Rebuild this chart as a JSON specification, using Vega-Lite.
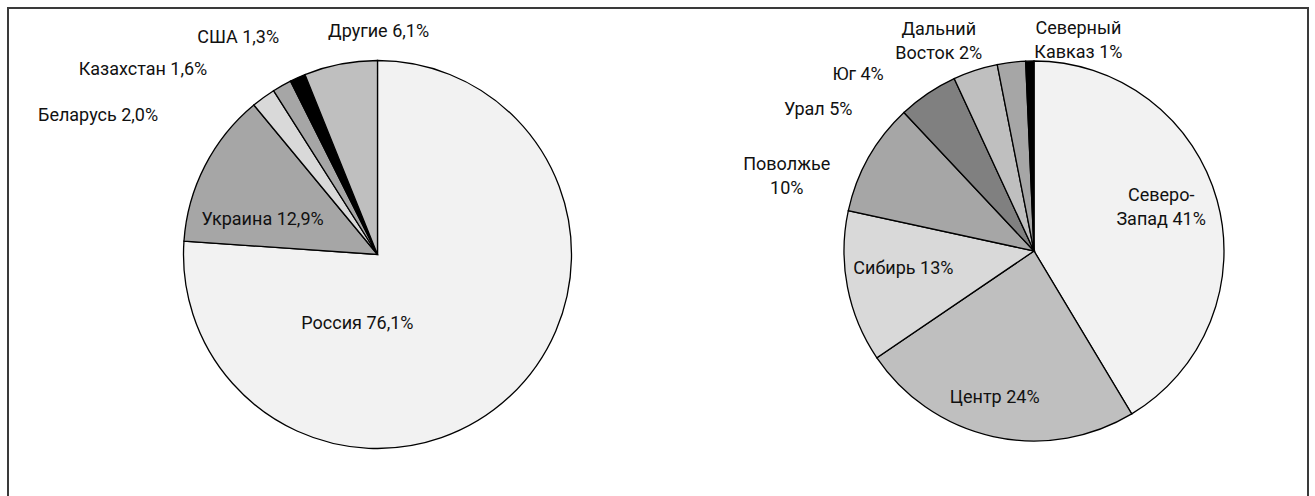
{
  "$schema": "https://vega.github.io/schema/vega-lite/v6.json",
  "width": 1300,
  "height": 500,
  "autosize": {"type": "none"},
  "padding": {"left": 8, "top": 8, "right": 7, "bottom": 0},
  "background": "white",
  "config": {
    "view": {"stroke": "#3a3a3a", "strokeWidth": 2},
    "text": {"font": "Roboto", "fontSize": 18, "color": "#111111", "baseline": "middle", "align": "center", "lineBreak": "\n", "lineHeight": 24}
  },
  "data": {
    "values": [
      {"chart": "A", "idx": 1, "name": "Россия", "value": 76.1, "label": "Россия 76,1%"},
      {"chart": "A", "idx": 2, "name": "Украина", "value": 12.9, "label": "Украина 12,9%"},
      {"chart": "A", "idx": 3, "name": "Беларусь", "value": 2.0, "label": "Беларусь 2,0%"},
      {"chart": "A", "idx": 4, "name": "Казахстан", "value": 1.6, "label": "Казахстан 1,6%"},
      {"chart": "A", "idx": 5, "name": "США", "value": 1.3, "label": "США 1,3%"},
      {"chart": "A", "idx": 6, "name": "Другие", "value": 6.1, "label": "Другие 6,1%"},
      {"chart": "B", "idx": 1, "name": "Северо-Запад", "value": 41.4, "label": "Северо-\nЗапад 41%"},
      {"chart": "B", "idx": 2, "name": "Центр", "value": 24.1, "label": "Центр 24%"},
      {"chart": "B", "idx": 3, "name": "Сибирь", "value": 12.9, "label": "Сибирь 13%"},
      {"chart": "B", "idx": 4, "name": "Поволжье", "value": 9.6, "label": "Поволжье\n10%"},
      {"chart": "B", "idx": 5, "name": "Урал", "value": 5.1, "label": "Урал 5%"},
      {"chart": "B", "idx": 6, "name": "Юг", "value": 3.8, "label": "Юг 4%"},
      {"chart": "B", "idx": 7, "name": "Дальний Восток", "value": 2.4, "label": "Дальний\nВосток 2%"},
      {"chart": "B", "idx": 8, "name": "Северный Кавказ", "value": 0.7, "label": "Северный\nКавказ 1%"}
    ]
  },
  "encoding": {
    "x": {"field": "chart", "type": "nominal", "scale": {"type": "point", "domain": ["A", "B"], "range": [369.5, 1026], "padding": 0}, "axis": null},
    "y": {"field": "chart", "type": "nominal", "scale": {"type": "point", "domain": ["A", "B"], "range": [246.5, 243], "padding": 0}, "axis": null},
    "theta": {"field": "value", "type": "quantitative", "stack": true, "scale": {"domain": [0, 100]}},
    "order": {"field": "idx", "type": "quantitative"}
  },
  "layer": [
    {
      "transform": [{"filter": "datum.chart === 'A'"}],
      "mark": {"type": "arc", "radius": 194, "stroke": "#000000", "strokeWidth": 1.3},
      "encoding": {
        "color": {"field": "name", "type": "nominal", "legend": null,
          "scale": {
            "domain": ["Россия", "Украина", "Беларусь", "Казахстан", "США", "Другие", "Северо-Запад", "Центр", "Сибирь", "Поволжье", "Урал", "Юг", "Дальний Восток", "Северный Кавказ"],
            "range": ["#f2f2f2", "#a6a6a6", "#d9d9d9", "#a6a6a6", "#000000", "#bfbfbf", "#f2f2f2", "#bfbfbf", "#d9d9d9", "#a6a6a6", "#808080", "#bfbfbf", "#a6a6a6", "#000000"]
          }
        }
      }
    },
    {
      "transform": [{"filter": "datum.chart === 'B'"}],
      "mark": {"type": "arc", "radius": 190, "stroke": "#000000", "strokeWidth": 1.3},
      "encoding": {
        "color": {"field": "name", "type": "nominal", "legend": null}
      }
    },
    {"transform": [{"filter": "datum.chart === 'A'"}], "mark": {"type": "text", "radius": 36.5, "dx": -45, "dy": 43},
     "encoding": {"text": {"condition": {"test": "datum.name === 'Россия'", "field": "label"}, "value": ""}}},
    {"transform": [{"filter": "datum.chart === 'A'"}], "mark": {"type": "text", "radius": 119, "dx": -9, "dy": 20},
     "encoding": {"text": {"condition": {"test": "datum.name === 'Украина'", "field": "label"}, "value": ""}}},
    {"transform": [{"filter": "datum.chart === 'A'"}], "mark": {"type": "text", "radius": 278, "dx": -116, "dy": 86},
     "encoding": {"text": {"condition": {"test": "datum.name === 'Беларусь'", "field": "label"}, "value": ""}}},
    {"transform": [{"filter": "datum.chart === 'A'"}], "mark": {"type": "text", "radius": 277, "dx": -98, "dy": 57},
     "encoding": {"text": {"condition": {"test": "datum.name === 'Казахстан'", "field": "label"}, "value": ""}}},
    {"transform": [{"filter": "datum.chart === 'A'"}], "mark": {"type": "text", "radius": 256, "dx": -34, "dy": 17},
     "encoding": {"text": {"condition": {"test": "datum.name === 'США'", "field": "label"}, "value": ""}}},
    {"transform": [{"filter": "datum.chart === 'A'"}], "mark": {"type": "text", "radius": 220, "dx": 43, "dy": -7},
     "encoding": {"text": {"condition": {"test": "datum.name === 'Другие'", "field": "label"}, "value": ""}}},
    {"transform": [{"filter": "datum.chart === 'B'"}], "mark": {"type": "text", "radius": 134, "dx": -2, "dy": -19},
     "encoding": {"text": {"condition": {"test": "datum.name === 'Северо-Запад'", "field": "label"}, "value": ""}}},
    {"transform": [{"filter": "datum.chart === 'B'"}], "mark": {"type": "text", "radius": 150, "dx": -7, "dy": 1},
     "encoding": {"text": {"condition": {"test": "datum.name === 'Центр'", "field": "label"}, "value": ""}}},
    {"transform": [{"filter": "datum.chart === 'B'"}], "mark": {"type": "text", "radius": 131, "dx": -2, "dy": -7},
     "encoding": {"text": {"condition": {"test": "datum.name === 'Сибирь'", "field": "label"}, "value": ""}}},
    {"transform": [{"filter": "datum.chart === 'B'"}], "mark": {"type": "text", "radius": 252, "dx": -28, "dy": 38},
     "encoding": {"text": {"condition": {"test": "datum.name === 'Поволжье'", "field": "label"}, "value": ""}}},
    {"transform": [{"filter": "datum.chart === 'B'"}], "mark": {"type": "text", "radius": 239, "dx": -82, "dy": 57},
     "encoding": {"text": {"condition": {"test": "datum.name === 'Урал'", "field": "label"}, "value": ""}}},
    {"transform": [{"filter": "datum.chart === 'B'"}], "mark": {"type": "text", "radius": 223, "dx": -107, "dy": 36},
     "encoding": {"text": {"condition": {"test": "datum.name === 'Юг'", "field": "label"}, "value": ""}}},
    {"transform": [{"filter": "datum.chart === 'B'"}], "mark": {"type": "text", "radius": 220, "dx": -69, "dy": -3},
     "encoding": {"text": {"condition": {"test": "datum.name === 'Дальний Восток'", "field": "label"}, "value": ""}}},
    {"transform": [{"filter": "datum.chart === 'B'"}], "mark": {"type": "text", "radius": 210, "dx": 49, "dy": -12},
     "encoding": {"text": {"condition": {"test": "datum.name === 'Северный Кавказ'", "field": "label"}, "value": ""}}}
  ]
}
